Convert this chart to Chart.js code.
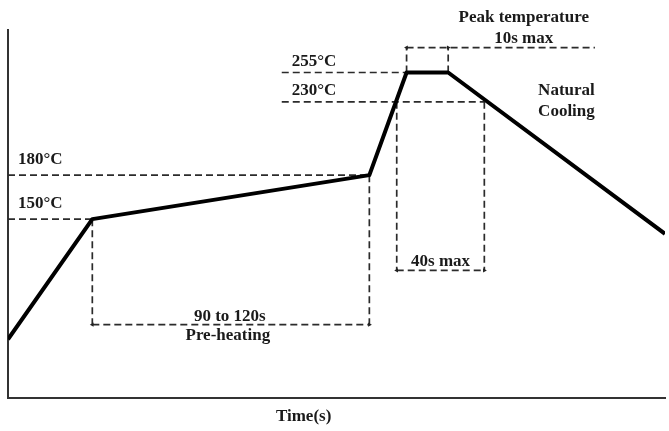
<!DOCTYPE html>
<html>
<head>
<meta charset="utf-8">
<script src="https://cdn.jsdelivr.net/npm/chart.js@4.4.1/dist/chart.umd.min.js"></script>
<style>
    html, body { margin: 0; padding: 0; background: #fff; }
    #wrap { width: 669px; height: 431px; }
</style>
</head>
<body>
<div id="wrap"><canvas id="profileChart" width="669" height="431"></canvas></div>
<script>
// reflow profile: time (s) / temperature (°C)
const profileTime = [0, 38.5, 165, 182, 201, 300];
const profileTemp = [68, 150, 180, 250, 250, 140];

// horizontal reference levels
const levelLabels = ['150°C', '180°C', '230°C', '255°C'];
const levelTemps = [150, 180, 230, 250];
const levelFrom = [0, 0, 125, 125];
const levelTo = [38.5, 165, 217.5, 182];

// dimension spans: pre-heating, time above 230, peak
const spanFrom = [38.5, 177.5, 182];
const spanTo = [165, 217.5, 201];
const spanTemp = [78, 115, 267];
const spanBaseFrom = [150, 230, 250];
const spanBaseTo = [180, 230, 250];
const peakGuideEnd = 268;

// build dashed guide lines, segments split by null points
const guides = [];
function seg(x1, y1, x2, y2) {
    guides.push({x: x1, y: y1}, {x: x2, y: y2}, {x: x2, y: null});
}
levelTemps.forEach((t, i) => seg(levelFrom[i], t, levelTo[i], t));
spanFrom.forEach((s, i) => {
    seg(spanFrom[i], spanBaseFrom[i], spanFrom[i], spanTemp[i]);
    seg(spanTo[i], spanBaseTo[i], spanTo[i], spanTemp[i]);
    seg(spanFrom[i], spanTemp[i], i === 2 ? peakGuideEnd : spanTo[i], spanTemp[i]);
});

// little arrow heads at the ends of each span
const arrowPts = [];
const arrowRot = [];
spanFrom.forEach((s, i) => {
    arrowPts.push({x: spanFrom[i], y: spanTemp[i]});
    arrowRot.push(270);
    arrowPts.push({x: spanTo[i], y: spanTemp[i]});
    arrowRot.push(90);
});

const textPlugin = {
    id: 'profileText',
    afterDraw(chart) {
        const {ctx, chartArea} = chart;
        const x = chart.scales.x;
        const y = chart.scales.y;
        ctx.save();
        ctx.font = 'bold 17px "Liberation Serif"';
        ctx.fillStyle = '#1a1a1a';
        ctx.textBaseline = 'middle';

        // level labels sit just above their dashed line
        ctx.textAlign = 'left';
        levelLabels.forEach((lab, i) => {
            const lift = levelFrom[i] === 0 ? 16 : 11;
            ctx.fillText(lab, x.getPixelForValue(levelFrom[i]) + 10, y.getPixelForValue(levelTemps[i]) - lift);
        });

        ctx.textAlign = 'center';
        // pre-heating span
        let cx = (x.getPixelForValue(spanFrom[0]) + x.getPixelForValue(spanTo[0])) / 2;
        let cy = y.getPixelForValue(spanTemp[0]);
        ctx.fillText('90 to 120s', cx - 1, cy - 8);
        ctx.fillText('Pre-heating', cx - 3, cy + 11);

        // time above 230
        cx = (x.getPixelForValue(spanFrom[1]) + x.getPixelForValue(spanTo[1])) / 2;
        cy = y.getPixelForValue(spanTemp[1]);
        ctx.fillText('40s max', cx, cy - 9);

        // peak
        cx = x.getPixelForValue(235.5);
        cy = y.getPixelForValue(spanTemp[2]);
        ctx.fillText('Peak temperature', cx, cy - 30);
        ctx.fillText('10s max', cx, cy - 9);

        cx = x.getPixelForValue(255);
        ctx.fillText('Natural', cx, y.getPixelForValue(237.4));
        ctx.fillText('Cooling', cx, y.getPixelForValue(223.1));

        ctx.fillText('Time(s)', x.getPixelForValue(135), chartArea.bottom + 19);
        ctx.restore();
    }
};

const ctx = document.getElementById('profileChart').getContext('2d');
new Chart(ctx, {
    type: 'line',
    data: {
        datasets: [{
            data: profileTime.map((t, i) => ({x: t, y: profileTemp[i]})),
            borderColor: '#000',
            borderWidth: 4,
            borderJoinStyle: 'round',
            pointRadius: 0,
            tension: 0,
            fill: false
        }, {
            data: arrowPts,
            showLine: false,
            pointStyle: 'triangle',
            pointRadius: 2.5,
            pointRotation: arrowRot,
            backgroundColor: '#222',
            borderColor: '#222',
            borderWidth: 0
        }, {
            data: guides,
            borderColor: '#2b2b2b',
            borderWidth: 1.7,
            borderDash: [7, 4],
            pointRadius: 0,
            spanGaps: false,
            tension: 0,
            fill: false
        }]
    },
    options: {
        responsive: false,
        animation: false,
        layout: {
            padding: {left: 8, top: 30, right: -3, bottom: 33}
        },
        plugins: {
            legend: {display: false},
            tooltip: {enabled: false}
        },
        scales: {
            x: {
                type: 'linear',
                min: 0,
                max: 300,
                ticks: {display: false},
                grid: {display: false, drawTicks: false},
                border: {display: true, color: '#333', width: 2}
            },
            y: {
                type: 'linear',
                min: 28,
                max: 279,
                ticks: {display: false},
                grid: {display: false, drawTicks: false},
                border: {display: true, color: '#333', width: 2}
            }
        }
    },
    plugins: [textPlugin]
});
</script>
</body>
</html>
